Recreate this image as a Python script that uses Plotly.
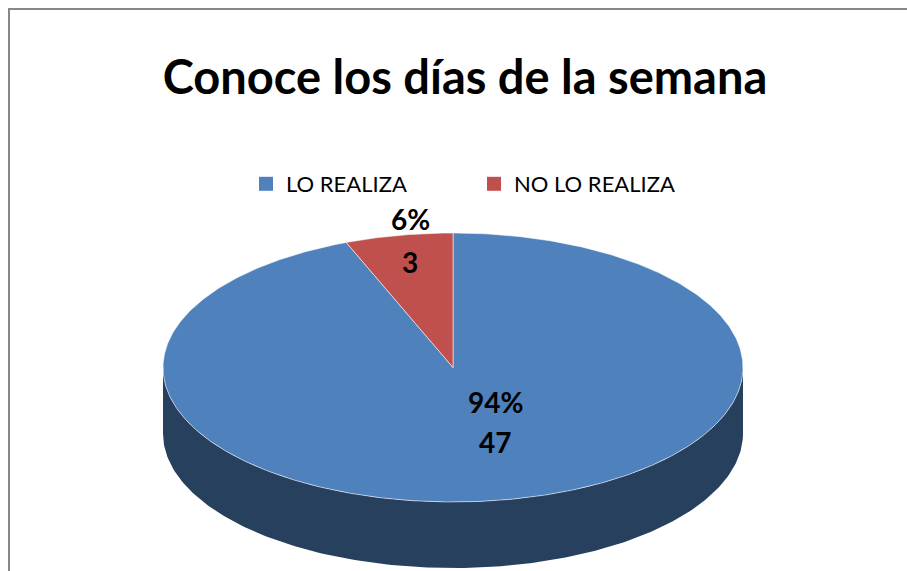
import numpy as np
import plotly.graph_objects as go

# ---- data ----
labels = ["LO REALIZA", "NO LO REALIZA"]
values = [47, 3]
top_colors = ["#4f81bd", "#c0504d"]
side_colors = ["#27405e", "#7a2e2c"]

title_text = "Conoce los días de la semana"
FONT = "Lato"

# ---- geometry of the pseudo-3D pie (pixel-like axis units) ----
cx, cy = 453, 367.5
a, b = 290, 134.5
depth = 66

total = sum(values)
fracs = [v / total for v in values]


def ell(t_deg, dy=0.0):
    t = np.radians(t_deg)
    return cx + a * np.sin(t), cy - b * np.cos(t) + dy


fig = go.Figure()

# slice angle ranges, clockwise from 12 o'clock
starts, ends = [], []
acc = 0.0
for f in fracs:
    starts.append(acc * 360)
    acc += f
    ends.append(acc * 360)

# side walls (visible front portion: 90..270 deg)
for s, e, col in zip(starts, ends, side_colors):
    lo, hi = max(s, 90), min(e, 270)
    if hi <= lo:
        continue
    t = np.linspace(lo, hi, 200)
    xt, yt = ell(t)
    xb, yb = ell(t[::-1], depth)
    fig.add_trace(go.Scatter(
        x=np.concatenate([xt, xb, xt[:1]]), y=np.concatenate([yt, yb, yt[:1]]),
        mode="lines", fill="toself", fillcolor=col, line=dict(width=0, color=col),
        hoverinfo="skip", showlegend=False))

# top surface slices
for s, e, col, lab, v in zip(starts, ends, top_colors, labels, values):
    t = np.linspace(s, e, max(int((e - s) * 2), 10))
    xs, ys = ell(t)
    fig.add_trace(go.Scatter(
        x=np.concatenate([[cx], xs, [cx]]), y=np.concatenate([[cy], ys, [cy]]),
        mode="lines", fill="toself", fillcolor=col,
        line=dict(width=1, color="rgba(255,255,255,0.55)"),
        name=lab, hoverinfo="text", text=f"{lab}: {v}", showlegend=False))

# legend entries
for lab, col in zip(labels, top_colors):
    fig.add_trace(go.Scatter(x=[None], y=[None], mode="markers",
                             marker=dict(symbol="square", size=14, color=col),
                             name=lab, showlegend=True))

# data labels
label_pos = [(495, 402, 442), (410, 219, 262)]
for (lx, ly1, ly2), v, f in zip(label_pos, values, fracs):
    fig.add_annotation(x=lx, y=ly1, text=f"<b>{round(f*100)}%</b>", showarrow=False,
                       font=dict(family=FONT, size=28, color="black"))
    fig.add_annotation(x=lx, y=ly2, text=f"<b>{v}</b>", showarrow=False,
                       font=dict(family=FONT, size=28, color="black"))

# chart border
fig.add_shape(type="rect", xref="x", yref="y", x0=9, y0=9, x1=1000, y1=700,
              line=dict(color="#878787", width=2), fillcolor="rgba(0,0,0,0)")

fig.update_layout(
    width=907, height=571,
    margin=dict(l=0, r=0, t=0, b=0),
    paper_bgcolor="white", plot_bgcolor="white",
    title=dict(text=f"<b>{title_text}</b>", x=465 / 907, xanchor="center",
               y=1 - 78 / 571, yanchor="middle", yref="container",
               font=dict(family=FONT, size=47, color="black")),
    legend=dict(orientation="h", x=246 / 907, xanchor="left",
                y=1 - 163 / 571, yanchor="top",
                font=dict(family=FONT, size=22, color="black"),
                entrywidth=183, entrywidthmode="pixels",
                bgcolor="rgba(0,0,0,0)"),
    xaxis=dict(range=[0, 907], visible=False, fixedrange=True),
    yaxis=dict(range=[571, 0], visible=False, fixedrange=True),
)

fig.write_html("out.html",
               config={"displayModeBar": False},
               post_script="document.body.style.margin='0px';"
                           "document.body.style.overflow='hidden';")
